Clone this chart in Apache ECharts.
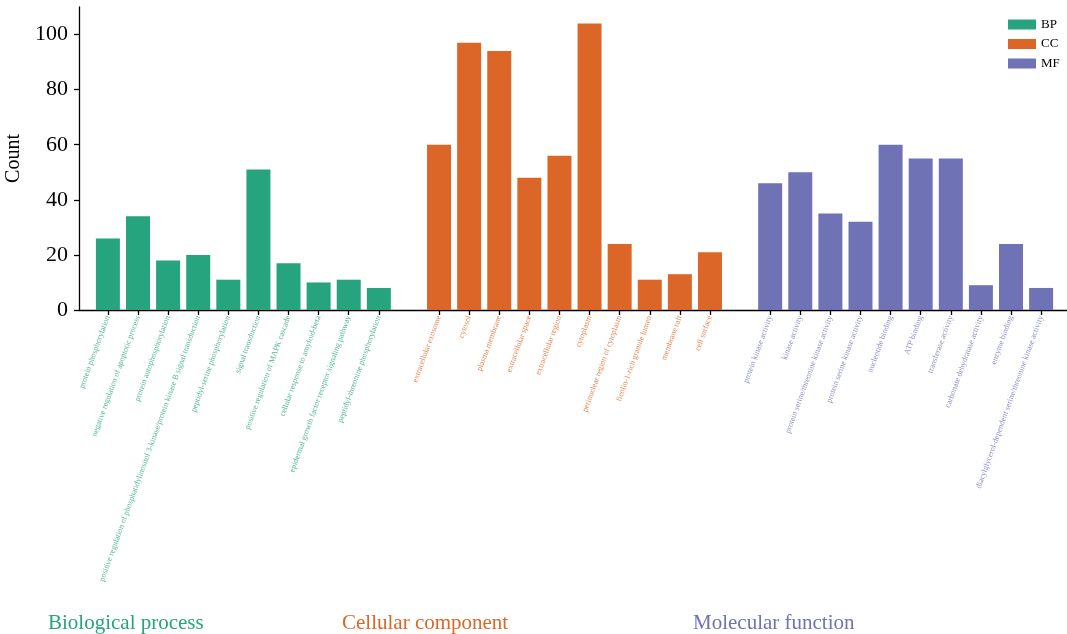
<!DOCTYPE html>
<html>
<head>
<meta charset="utf-8">
<script src="https://cdn.jsdelivr.net/npm/echarts@6/dist/echarts.min.js"></script>
<style>
  html, body { margin: 0; padding: 0; background: #fff; }
  #chart { width: 1067px; height: 634px; }
</style>
</head>
<body>
<div id="chart"></div>
<script>
// GO enrichment counts, one list per ontology
const bpTerms = [
  'protein phosphorylation',
  'negative regulation of apoptotic process',
  'protein autophosphorylation',
  'positive regulation of phosphatidylinositol 3-kinase/protein kinase B signal transduction',
  'peptidyl-serine phosphorylation',
  'signal transduction',
  'positive regulation of MAPK cascade',
  'cellular response to amyloid-beta',
  'epidermal growth factor receptor signaling pathway',
  'peptidyl-threonine phosphorylation'
];
const bpCounts = [26, 34, 18, 20, 11, 51, 17, 10, 11, 8];

const ccTerms = [
  'extracellular exosome',
  'cytosol',
  'plasma membrane',
  'extracellular space',
  'extracellular region',
  'cytoplasm',
  'perinuclear region of cytoplasm',
  'ficolin-1-rich granule lumen',
  'membrane raft',
  'cell surface'
];
const ccCounts = [60, 97, 94, 48, 56, 104, 24, 11, 13, 21];

const mfTerms = [
  'protein kinase activity',
  'kinase activity',
  'protein serine/threonine kinase activity',
  'protein serine kinase activity',
  'nucleotide binding',
  'ATP binding',
  'transferase activity',
  'carbonate dehydratase activity',
  'enzyme binding',
  'diacylglycerol-dependent serine/threonine kinase activity'
];
const mfCounts = [46, 50, 35, 32, 60, 55, 55, 9, 24, 8];

const groupKeys = ['BP', 'CC', 'MF'];
const groupTitles = ['Biological process', 'Cellular component', 'Molecular function'];
const yTicks = [0, 20, 40, 60, 80, 100];

const colors = ['#26a47e', '#dc6627', '#6f72b5'];
const labelColors = ['rgba(38,164,126,0.8)', 'rgba(220,102,39,0.8)', 'rgba(111,114,181,0.8)'];

const groups = [
  { terms: bpTerms, counts: bpCounts },
  { terms: ccTerms, counts: ccCounts },
  { terms: mfTerms, counts: mfCounts }
];

// each group takes its own block of slots, with one empty slot between groups
const slotOf = {};
const tickPositions = [];
groups.forEach((g, gi) => {
  g.terms.forEach((t, i) => {
    const pos = gi * (g.terms.length + 1) + i;
    slotOf[pos] = { name: t, group: gi };
    tickPositions.push(pos);
  });
});

const series = groups.map((g, gi) => ({
  name: groupKeys[gi],
  type: 'bar',
  barWidth: 24,
  barGap: '-100%',
  itemStyle: { color: colors[gi] },
  data: g.counts.map((c, i) => [gi * (g.terms.length + 1) + i, c])
}));

const rich = {};
labelColors.forEach((c, i) => {
  rich['g' + i] = { color: c, fontSize: 8, fontFamily: 'Liberation Serif' };
});

const serif = 'Liberation Serif';

const chart = echarts.init(document.getElementById('chart'), null, { renderer: 'canvas' });
chart.setOption({
  animation: false,
  backgroundColor: '#fff',
  grid: { left: 79, right: 0, top: 7, bottom: 324, containLabel: false, outerBoundsMode: 'none' },
  legend: {
    orient: 'vertical',
    left: 1003,
    top: 13,
    itemWidth: 28,
    itemHeight: 10,
    itemGap: 6.5,
    icon: 'rect',
    textStyle: { fontFamily: serif, fontSize: 13, color: '#000' },
    data: groupKeys
  },
  title: groupTitles.map((t, i) => ({
    text: t,
    left: [43, 337, 688][i],
    top: 608,
    textStyle: { fontFamily: serif, fontSize: 21, fontWeight: 'normal', color: colors[i] }
  })),
  xAxis: {
    type: 'value',
    min: -0.96,
    max: 31.86,
    splitLine: { show: false },
    axisLine: { show: true, onZero: false, lineStyle: { color: '#000', width: 1.3 } },
    axisTick: {
      show: true, inside: false, length: 5,
      customValues: tickPositions,
      lineStyle: { color: '#000', width: 1.3 }
    },
    axisLabel: {
      show: true,
      customValues: tickPositions,
      rotate: 70,
      margin: 6,
      rich: rich,
      formatter: v => {
        const s = slotOf[Math.round(v)];
        return s ? '{g' + s.group + '|' + s.name + '}' : '';
      }
    }
  },
  yAxis: {
    type: 'value',
    min: 0,
    max: 110,
    name: 'Count',
    nameLocation: 'middle',
    nameGap: 48,
    nameTextStyle: { fontFamily: serif, fontSize: 20, color: '#000' },
    splitLine: { show: false },
    axisLine: { show: true, onZero: false, lineStyle: { color: '#000', width: 1.3 } },
    axisTick: {
      show: true, length: 5,
      customValues: yTicks,
      lineStyle: { color: '#000', width: 1.3 }
    },
    axisLabel: {
      customValues: yTicks,
      margin: 11,
      fontFamily: serif,
      fontSize: 22,
      color: '#000'
    }
  },
  series: series
});
</script>
</body>
</html>
